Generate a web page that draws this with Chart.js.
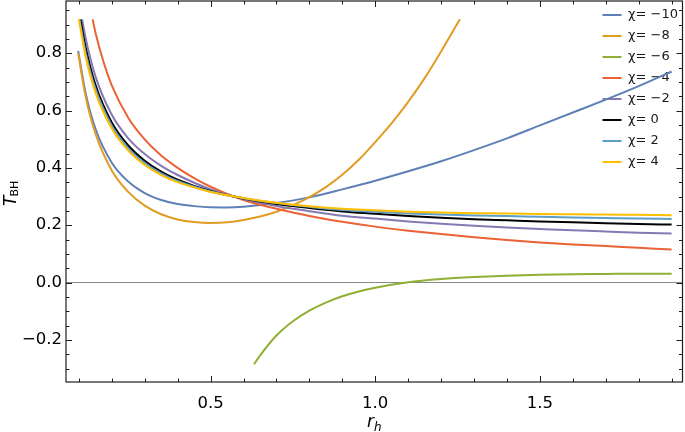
<!DOCTYPE html>
<html><head><meta charset="utf-8">
<script src="https://cdn.jsdelivr.net/npm/chart.js@4.4.1/dist/chart.umd.min.js"></script>
<style>html,body{margin:0;padding:0;background:#fff;}#wrap{width:685px;height:432px;}</style>
</head><body><div id="wrap"><canvas id="c" width="685" height="432"></canvas></div>
<script>
// ---- data ----
const seriesLabels = ['χ= −10', 'χ= −8', 'χ= −6', 'χ= −4', 'χ= −2', 'χ= 0', 'χ= 2', 'χ= 4'];

const r_m10 = [0.098,0.12,0.15,0.2,0.25,0.3,0.35,0.4,0.45,0.5,0.55,0.6,0.7,0.8,0.9,1.0,1.1,1.2,1.3,1.4,1.5,1.6,1.7,1.8,1.9];
const T_m10 = [0.808,0.664,0.538,0.418,0.352,0.312,0.288,0.274,0.2665,0.2625,0.262,0.2645,0.277,0.297,0.325,0.355,0.388,0.423,0.462,0.503,0.548,0.593,0.638,0.685,0.736];

const r_m8 = [0.098,0.12,0.15,0.2,0.25,0.3,0.35,0.4,0.45,0.5,0.55,0.6,0.65,0.7,0.75,0.8,0.85,0.9,0.95,1.0,1.05,1.1,1.15,1.2,1.257];
const T_m8 = [0.800,0.652,0.521,0.391,0.316,0.268,0.238,0.220,0.211,0.208,0.210,0.218,0.230,0.247,0.270,0.298,0.333,0.376,0.428,0.490,0.556,0.630,0.713,0.806,0.918];

const r_m6 = [0.632,0.65,0.7,0.75,0.8,0.85,0.9,0.95,1.0,1.1,1.2,1.3,1.4,1.5,1.6,1.7,1.8,1.9];
const T_m6 = [-0.285,-0.255,-0.185,-0.135,-0.098,-0.070,-0.048,-0.031,-0.018,0.001,0.012,0.019,0.024,0.027,0.029,0.030,0.031,0.031];

const r_m4 = [0.142,0.15,0.175,0.2,0.25,0.3,0.35,0.4,0.45,0.5,0.55,0.6,0.65,0.7,0.8,0.9,1.0,1.1,1.2,1.3,1.4,1.5,1.6,1.7,1.8,1.9];
const T_m4 = [0.918,0.874,0.769,0.688,0.575,0.499,0.443,0.400,0.364,0.334,0.309,0.288,0.271,0.257,0.232,0.212,0.195,0.181,0.169,0.158,0.148,0.140,0.133,0.127,0.121,0.115];

const r_m2 = [0.11,0.12,0.15,0.2,0.25,0.3,0.35,0.4,0.5,0.6,0.7,0.8,0.9,1.0,1.1,1.2,1.3,1.4,1.5,1.6,1.7,1.8,1.9];
const T_m2 = [0.918,0.856,0.721,0.585,0.503,0.448,0.407,0.375,0.325,0.291,0.267,0.249,0.233,0.223,0.213,0.205,0.198,0.192,0.187,0.182,0.178,0.174,0.171];

const r_0 = [0.105,0.12,0.15,0.2,0.25,0.3,0.35,0.4,0.5,0.6,0.7,0.8,0.9,1.0,1.1,1.2,1.3,1.4,1.5,1.6,1.7,1.8,1.9];
const T_0 = [0.918,0.823,0.691,0.558,0.478,0.425,0.387,0.359,0.319,0.293,0.274,0.260,0.248,0.240,0.232,0.226,0.221,0.217,0.213,0.210,0.207,0.204,0.202];

const r_p2 = [0.102,0.12,0.15,0.2,0.25,0.3,0.35,0.4,0.5,0.6,0.7,0.8,0.9,1.0,1.1,1.2,1.3,1.4,1.5,1.6,1.7,1.8,1.9];
const T_p2 = [0.918,0.805,0.677,0.547,0.469,0.417,0.381,0.354,0.318,0.294,0.277,0.264,0.253,0.247,0.241,0.237,0.234,0.232,0.229,0.227,0.225,0.223,0.222];

const r_p4 = [0.1,0.12,0.15,0.2,0.25,0.3,0.35,0.4,0.5,0.6,0.7,0.8,0.9,1.0,1.1,1.2,1.3,1.4,1.5,1.6,1.7,1.8,1.9];
const T_p4 = [0.918,0.791,0.664,0.537,0.460,0.410,0.375,0.350,0.316,0.295,0.278,0.266,0.257,0.252,0.247,0.244,0.242,0.241,0.239,0.238,0.237,0.236,0.235];

const xTickValues = [0.5, 1.0, 1.5];
const yTickValues = [-0.2, 0.0, 0.2, 0.4, 0.6, 0.8];
const xMinorTicks = [0.1,0.2,0.3,0.4,0.5,0.6,0.7,0.8,0.9,1.0,1.1,1.2,1.3,1.4,1.5,1.6,1.7,1.8,1.9];
const yMinorTicks = [-0.3,-0.25,-0.2,-0.15,-0.1,-0.05,0,0.05,0.1,0.15,0.2,0.25,0.3,0.35,0.4,0.45,0.5,0.55,0.6,0.65,0.7,0.75,0.8,0.85,0.9,0.95];

// ---- styling ----
const colors = ['#5E81B5', '#E19C24', '#8FB032', '#EB6235', '#8778B3', '#000000', '#5D9EC7', '#FFBF00'];
const rs = [r_m10, r_m8, r_m6, r_m4, r_m2, r_0, r_p2, r_p4];
const Ts = [T_m10, T_m8, T_m6, T_m4, T_m2, T_0, T_p2, T_p4];

const datasets = seriesLabels.map((lab, i) => ({
  label: lab,
  data: rs[i].map((r, j) => ({x: r, y: Ts[i][j]})),
  borderColor: colors[i],
  backgroundColor: colors[i],
  borderWidth: 2,
  pointRadius: 0,
  fill: false,
  cubicInterpolationMode: 'monotone',
  order: seriesLabels.length - 1 - i
}));

const FONT = 'DejaVu Sans';

const moveLegend = {
  id: 'moveLegend',
  afterUpdate(chart) {
    const l = chart.legend;
    if (!l) return;
    l.left = 594.5; l.right = l.left + l.width;
    l.top = 0.5; l.bottom = chart.chartArea.bottom;
  }
};

const frameTicks = {
  id: 'frameTicks',
  afterDatasetsDraw(chart) {
    const {ctx, chartArea: a, scales} = chart;
    const xs = scales.x, ys = scales.y;
    ctx.save();
    ctx.strokeStyle = '#1e1e1e';
    ctx.lineWidth = 1;
    ctx.beginPath();
    xMinorTicks.forEach(v => {
      const px = Math.round(xs.getPixelForValue(v)) + 0.5;
      const major = xTickValues.some(m => Math.abs(m - v) < 1e-9);
      const len = major ? 6 : 3.5;
      ctx.moveTo(px, a.bottom); ctx.lineTo(px, a.bottom - len);
      ctx.moveTo(px, a.top); ctx.lineTo(px, a.top + len);
    });
    yMinorTicks.forEach(v => {
      const py = Math.round(ys.getPixelForValue(v)) + 0.5;
      const major = yTickValues.some(m => Math.abs(m - v) < 1e-9);
      const len = major ? 6 : 3.5;
      ctx.moveTo(a.left, py); ctx.lineTo(a.left + len, py);
      ctx.moveTo(a.right, py); ctx.lineTo(a.right - len, py);
    });
    ctx.stroke();
    ctx.lineWidth = 1.2;
    ctx.strokeRect(a.left, a.top, a.right - a.left, a.bottom - a.top);
    ctx.restore();
  },
  afterDraw(chart) {
    const {ctx} = chart;
    ctx.save();
    ctx.fillStyle = '#000';
    ctx.textBaseline = 'alphabetic';
    // y title: T_BH (rotated)
    ctx.translate(15.5, 206);
    ctx.rotate(-Math.PI / 2);
    ctx.font = 'italic 17px "' + FONT + '"';
    ctx.fillText('T', 0, 0);
    const tw = ctx.measureText('T').width;
    ctx.font = '11px "' + FONT + '"';
    ctx.fillText('BH', tw - 1, 2);
    ctx.restore();
    // x title: r_h
    ctx.save();
    ctx.fillStyle = '#000';
    ctx.textBaseline = 'alphabetic';
    ctx.font = 'italic 17px "' + FONT + '"';
    ctx.fillText('r', 367, 427);
    const rw = ctx.measureText('r').width;
    ctx.font = 'italic 12px "' + FONT + '"';
    ctx.fillText('h', 367 + rw, 431);
    ctx.restore();
  }
};

const fmt = v => (Math.round(v * 10) / 10).toFixed(1).replace('-', '\u2212');

new Chart(document.getElementById('c'), {
  type: 'line',
  data: {datasets},
  options: {
    responsive: false,
    animation: false,
    devicePixelRatio: 1,
    layout: {padding: {left: 0, top: 1, right: 2.5, bottom: 0}},
    plugins: {
      tooltip: {enabled: false},
      legend: {
        position: 'chartArea',
        align: 'start',
        labels: {
          font: {family: FONT, size: 13},
          color: '#1a1a1a',
          usePointStyle: true,
          pointStyle: 'line',
          pointStyleWidth: 19,
          padding: 8,
          sort: (a, b) => a.datasetIndex - b.datasetIndex
        }
      }
    },
    scales: {
      x: {
        type: 'linear',
        min: 0.061, max: 1.933,
        afterFit: s => { s.height = 50; s.paddingLeft = 0; s.paddingRight = 0; },
        afterBuildTicks: s => { s.ticks = xTickValues.map(v => ({value: v})); },
        grid: {display: false, drawTicks: false},
        border: {display: false},
        ticks: {font: {family: FONT, size: 16.5}, color: '#000', padding: 12, maxRotation: 0, autoSkip: false, callback: v => fmt(v)}
      },
      y: {
        type: 'linear',
        min: -0.347, max: 0.982,
        afterFit: s => { s.width = 66; s.paddingTop = 0; s.paddingBottom = 0; },
        afterBuildTicks: s => { s.ticks = yTickValues.map(v => ({value: v})); },
        grid: {drawTicks: false, lineWidth: 1, color: c => (c.tick && Math.abs(c.tick.value) < 1e-9) ? '#8a8a8a' : 'rgba(0,0,0,0)'},
        border: {display: false},
        ticks: {font: {family: FONT, size: 16.5}, color: '#000', padding: 4, autoSkip: false, callback: v => fmt(v)}
      }
    }
  },
  plugins: [moveLegend, frameTicks]
});
</script>
</body></html>
